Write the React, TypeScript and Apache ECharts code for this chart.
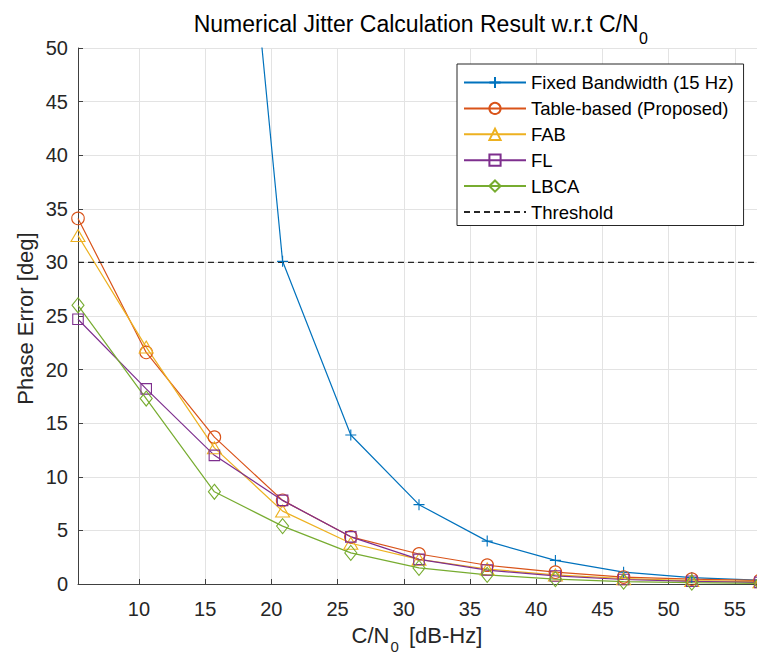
import React, { useEffect, useRef } from 'react';
import * as echarts from 'echarts';

// C/N0 [dB-Hz] sample points
const cn0 = [5.4, 10.55, 15.7, 20.85, 26.0, 31.15, 36.3, 41.45, 46.6, 51.75, 56.9];
// Phase error [deg] per method
const fixedBandwidth = [330, 180, 96, 30.1, 13.9, 7.4, 4.0, 2.2, 1.1, 0.6, 0.35];
const tableBased = [34.1, 21.6, 13.7, 7.8, 4.4, 2.8, 1.75, 1.1, 0.65, 0.45, 0.33];
const fab = [32.5, 22.1, 12.7, 6.8, 3.8, 2.3, 1.4, 0.85, 0.5, 0.32, 0.22];
const fl = [24.7, 18.2, 12.0, 7.8, 4.4, 2.3, 1.3, 0.75, 0.42, 0.25, 0.15];
const lbca = [26.0, 17.3, 8.6, 5.4, 2.9, 1.5, 0.85, 0.45, 0.22, 0.12, 0.06];
const thresholdValue = 30;

const seriesNames = [
  'Fixed Bandwidth (15 Hz)',
  'Table-based (Proposed)',
  'FAB',
  'FL',
  'LBCA',
  'Threshold',
];

const xMin = 5.4;
const xMax = 56.9;
const yMin = 0;
const yMax = 50;
const yStep = 5;

const FONT = '"Liberation Sans", Arial, Helvetica, sans-serif';
const TEXT = '#262626';

function makeSeries(name: string, values: number[], color: string, symbol: string, size: any) {
  return {
    name,
    type: 'line',
    data: cn0.map((x, i) => [x, values[i]]),
    symbol,
    symbolSize: size,
    showSymbol: true,
    showAllSymbol: true,
    clip: true,
    lineStyle: { color, width: 1.2 },
    itemStyle: { color: 'none', borderColor: color, borderWidth: 1.1 },
    emphasis: { disabled: true },
  };
}

export default function App() {
  const ref = useRef<HTMLDivElement>(null);

  useEffect(() => {
    if (!ref.current) return;
    const chart = echarts.init(ref.current, null, { renderer: 'svg' });

    const series: any[] = [
      makeSeries(seriesNames[0], fixedBandwidth, '#0072BD', 'path://M5 0 L5 10 M0 5 L10 5', 11),
      makeSeries(seriesNames[1], tableBased, '#D95319', 'circle', 12.5),
      makeSeries(seriesNames[2], fab, '#EDB120', 'triangle', [14, 12]),
      makeSeries(seriesNames[3], fl, '#7E2F8E', 'rect', 10.5),
      makeSeries(seriesNames[4], lbca, '#77AC30', 'diamond', [12, 15]),
      {
        name: seriesNames[5],
        type: 'line',
        data: [
          [xMin, thresholdValue],
          [xMax, thresholdValue],
        ],
        symbol: 'none',
        clip: true,
        lineStyle: { color: '#262626', width: 1.1, type: [6, 4] },
        itemStyle: { color: 'none', borderColor: 'none', borderWidth: 0 },
        emphasis: { disabled: true },
      },
    ];

    chart.setOption({
      animation: false,
      backgroundColor: '#fff',
      grid: { left: 78, top: 48, width: 682, height: 536, outerBoundsMode: 'none', containLabel: false },
      xAxis: {
        type: 'value',
        min: xMin,
        max: xMax,
        splitNumber: 10,
        axisLine: { show: true, lineStyle: { color: '#404040', width: 1 } },
        axisTick: { show: true, inside: true, length: 5, lineStyle: { color: '#404040' } },
        axisLabel: {
          fontSize: 20,
          fontFamily: FONT,
          color: TEXT,
          margin: 15,
          formatter: (v: number) => (Math.abs(v % 5) < 1e-9 ? String(v) : ''),
        },
        splitLine: { show: true, lineStyle: { color: '#e3e3e3', width: 1 } },
      },
      yAxis: {
        type: 'value',
        min: yMin,
        max: yMax,
        interval: yStep,
        axisLine: { show: true, lineStyle: { color: '#404040', width: 1 } },
        axisTick: { show: true, inside: true, length: 5, lineStyle: { color: '#404040' } },
        axisLabel: { fontSize: 20, fontFamily: FONT, color: TEXT, margin: 10 },
        splitLine: { show: true, lineStyle: { color: '#e3e3e3', width: 1 } },
      },
      legend: {
        orient: 'vertical',
        left: 457,
        top: 64,
        itemWidth: 62,
        itemHeight: 14,
        itemGap: 6.9,
        padding: [9, 10, 4, 6],
        backgroundColor: '#fff',
        borderColor: '#262626',
        borderWidth: 1,
        borderRadius: 0,
        selectedMode: false,
        textStyle: { fontSize: 18.5, fontFamily: FONT, color: '#000' },
        data: seriesNames,
      },
      graphic: [
        {
          type: 'text',
          x: 638.5,
          y: 23.5,
          style: {
            text: 'Numerical Jitter Calculation Result w.r.t C/N',
            fontSize: 23,
            fontFamily: FONT,
            fill: '#000',
            textAlign: 'right',
            textVerticalAlign: 'middle',
          },
        },
        {
          type: 'text',
          x: 639,
          y: 38,
          style: {
            text: '0',
            fontSize: 16,
            fontFamily: FONT,
            fill: '#000',
            textAlign: 'left',
            textVerticalAlign: 'middle',
          },
        },
        {
          type: 'text',
          x: 389.5,
          y: 635,
          style: {
            text: 'C/N',
            fontSize: 22,
            fontFamily: FONT,
            fill: TEXT,
            textAlign: 'right',
            textVerticalAlign: 'middle',
          },
        },
        {
          type: 'text',
          x: 390.5,
          y: 646.5,
          style: {
            text: '0',
            fontSize: 15,
            fontFamily: FONT,
            fill: TEXT,
            textAlign: 'left',
            textVerticalAlign: 'middle',
          },
        },
        {
          type: 'text',
          x: 409,
          y: 635,
          style: {
            text: '[dB-Hz]',
            fontSize: 22,
            fontFamily: FONT,
            fill: TEXT,
            textAlign: 'left',
            textVerticalAlign: 'middle',
          },
        },
        {
          type: 'text',
          x: 25,
          y: 318.5,
          rotation: Math.PI / 2,
          style: {
            text: 'Phase Error [deg]',
            fontSize: 22,
            fontFamily: FONT,
            fill: TEXT,
            textAlign: 'center',
            textVerticalAlign: 'middle',
          },
        },
      ],
      series,
    });

    return () => {
      chart.dispose();
    };
  }, []);

  return (
    <div
      ref={ref}
      style={{ position: 'absolute', left: 0, top: 0, width: 757, height: 654 }}
    />
  );
}
